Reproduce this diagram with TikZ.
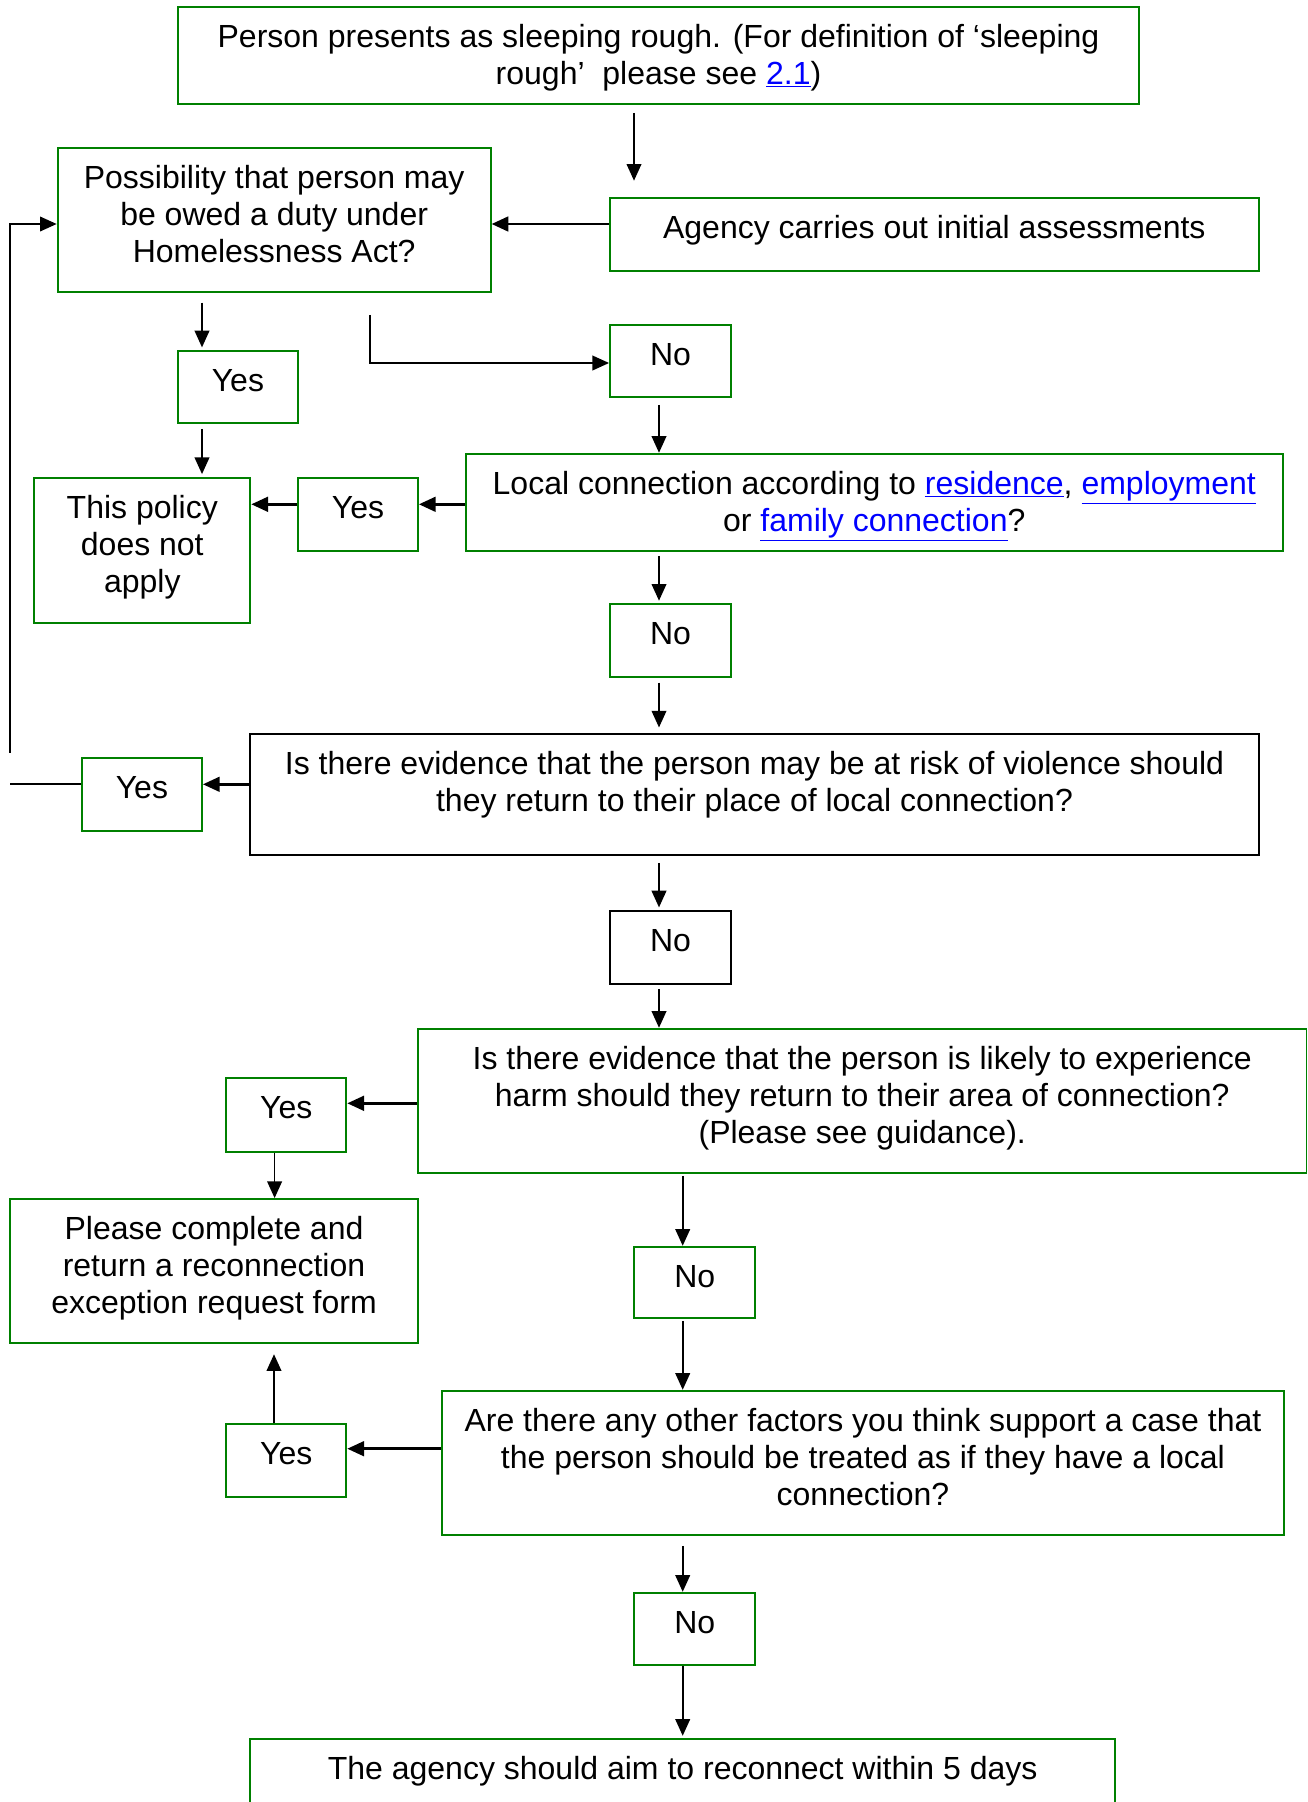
\documentclass[tikz,border=0pt]{standalone}
\usepackage{fontspec}
\setmainfont{Liberation Sans}
\usetikzlibrary{arrows.meta,fit}
\definecolor{boxgreen}{RGB}{0,128,0}
\definecolor{linkblue}{RGB}{0,0,255}
\newcommand\lnk[1]{\textcolor{linkblue}{\underline{#1}}}
\begin{document}
\begin{tikzpicture}[x=0.75pt,y=-0.75pt,
  gbox/.style={draw=boxgreen, line width=1.4pt, inner sep=0pt},
  kbox/.style={draw=black, line width=1.4pt, inner sep=0pt},
  txt/.style={font=\fontsize{24pt}{27.75pt}\selectfont, align=center, inner sep=0pt, anchor=north},
  arr/.style={draw=black, line width=1.3pt, -{Triangle[length=12.5pt,width=11pt]}},
  harr/.style={arr, line width=1.9pt},
  plain/.style={draw=black, line width=1.3pt}]
\useasboundingbox (0,0) rectangle (1308,1802);
% boxes
\node[gbox, fit={(178,7.3) (1139,104)}] (B1) {};
\node[gbox, fit={(57.6,147.7) (490.7,292.3)}] (Poss) {};
\node[gbox, fit={(610,198.3) (1258.6,270.7)}] (Agency) {};
\node[gbox, fit={(177.8,350.7) (298,423)}] (Yes1) {};
\node[gbox, fit={(610,325) (731,397.3)}] (No1) {};
\node[gbox, fit={(465.7,453.7) (1282.8,550.7)}] (Local) {};
\node[gbox, fit={(298,477.7) (418,550.7)}] (Yes2) {};
\node[gbox, fit={(34.2,477.7) (250.4,622.7)}] (Policy) {};
\node[gbox, fit={(610,604.3) (731,677.3)}] (No2) {};
\node[kbox, fit={(250.4,734) (1258.6,855)}] (Viol) {};
\node[gbox, fit={(81.8,757.7) (202,830.7)}] (Yes3) {};
\node[kbox, fit={(610,911) (731,984)}] (No3) {};
\node[gbox, fit={(418,1028.7) (1306.5,1173.3)}] (Harm) {};
\node[gbox, fit={(226.2,1078.3) (346.4,1151.7)}] (Yes4) {};
\node[gbox, fit={(10,1199) (418,1343.3)}] (Recon) {};
\node[gbox, fit={(634.3,1246.7) (755.3,1318)}] (No4) {};
\node[gbox, fit={(442.3,1390.7) (1283.6,1535.3)}] (Factors) {};
\node[gbox, fit={(226.2,1424.3) (346.4,1497)}] (Yes5) {};
\node[gbox, fit={(634.3,1592.7) (755.3,1665)}] (No5) {};
\node[gbox, fit={(250.4,1738.7) (1115,1835)}] (Final) {};
% texts
\node[txt] (B1t) at ([yshift=-11.5pt]B1.north) {\strut Person presents as sleeping rough. (For definition of ‘sleeping\\rough’\ \ please see \lnk{2.1})};
\node[txt] (Posst) at ([yshift=-11.5pt]Poss.north) {\strut Possibility that person may\\be owed a duty under\\Homelessness Act?};
\node[txt] (Agencyt) at ([yshift=-11.5pt]Agency.north) {\strut Agency carries out initial assessments};
\node[txt] (Yes1t) at ([yshift=-11.5pt]Yes1.north) {\strut Yes};
\node[txt] (No1t) at ([yshift=-11.5pt]No1.north) {\strut No};
\node[txt] (Localt) at ([yshift=-11.5pt]Local.north) {\strut Local connection according to \lnk{residence}, \lnk{employment}\\or \lnk{family connection}?};
\node[txt] (Yes2t) at ([yshift=-11.5pt]Yes2.north) {\strut Yes};
\node[txt] (Policyt) at ([yshift=-11.5pt]Policy.north) {\strut This policy\\does not\\apply};
\node[txt] (No2t) at ([yshift=-11.5pt]No2.north) {\strut No};
\node[txt] (Violt) at ([yshift=-11.5pt]Viol.north) {\strut Is there evidence that the person may be at risk of violence should\\they return to their place of local connection?};
\node[txt] (Yes3t) at ([yshift=-11.5pt]Yes3.north) {\strut Yes};
\node[txt] (No3t) at ([yshift=-11.5pt]No3.north) {\strut No};
\node[txt] (Harmt) at ([yshift=-11.5pt]Harm.north) {\strut Is there evidence that the person is likely to experience\\harm should they return to their area of connection?\\(Please see guidance).};
\node[txt] (Yes4t) at ([yshift=-11.5pt]Yes4.north) {\strut Yes};
\node[txt] (Recont) at ([yshift=-11.5pt]Recon.north) {\strut Please complete and\\return a reconnection\\exception request form};
\node[txt] (No4t) at ([yshift=-11.5pt]No4.north) {\strut No};
\node[txt] (Factorst) at ([yshift=-11.5pt]Factors.north) {\strut Are there any other factors you think support a case that\\the person should be treated as if they have a local\\connection?};
\node[txt] (Yes5t) at ([yshift=-11.5pt]Yes5.north) {\strut Yes};
\node[txt] (No5t) at ([yshift=-11.5pt]No5.north) {\strut No};
\node[txt] (Finalt) at ([yshift=-11.5pt]Final.north) {\strut The agency should aim to reconnect within 5 days};
% connectors
\draw[arr, shorten <=6pt, shorten >=12.5pt] (B1.south -| 634,0) -- (Agency.north -| 634,0);
\draw[harr] (Agency.west |- 0,224) -- (Poss.east |- 0,224);
\coordinate (loopA) at (10,752.7);
\coordinate (loopB) at (10,784.3);
\draw[arr] (loopA) |- (Poss.west |- 0,224);
\draw[plain] (Yes3.west |- 0,784.3) -- (loopB);
\draw[arr, shorten <=7pt, shorten >=1.8pt] (Poss.south -| 202,0) -- (Yes1.north -| 202,0);
\draw[arr, shorten <=16.3pt] (Poss.south -| 370,0) |- (No1.west |- 0,363);
\draw[arr, shorten <=5pt] (No1.south -| 659,0) -- (Local.north -| 659,0);
\draw[arr, shorten <=3.75pt, shorten >=2pt] (Yes1.south -| 202,0) -- (Policy.north -| 202,0);
\draw[harr] (Local.west |- 0,504.3) -- (Yes2.east |- 0,504.3);
\draw[harr] (Yes2.west |- 0,504.3) -- (Policy.east |- 0,504.3);
\draw[arr, shorten <=3.2pt, shorten >=2pt] (Local.south -| 659,0) -- (No2.north -| 659,0);
\draw[arr, shorten <=3.3pt, shorten >=4.2pt] (No2.south -| 659,0) -- (Viol.north -| 659,0);
\draw[harr] (Viol.west |- 0,784.3) -- (Yes3.east |- 0,784.3);
\draw[arr, shorten <=5.25pt, shorten >=2pt] (Viol.south -| 659,0) -- (No3.north -| 659,0);
\draw[arr, shorten <=3.2pt] (No3.south -| 659,0) -- (Harm.north -| 659,0);
\draw[harr] (Harm.west |- 0,1103.3) -- (Yes4.east |- 0,1103.3);
\draw[arr] (Yes4.south -| 274.6,0) -- (Recon.north -| 274.6,0);
\draw[arr, shorten <=1.3pt] (Harm.south -| 682.7,0) -- (No4.north -| 682.7,0);
\draw[arr, shorten <=1.5pt] (No4.south -| 682.7,0) -- (Factors.north -| 682.7,0);
\draw[harr] (Factors.west |- 0,1448.7) -- (Yes5.east |- 0,1448.7);
\draw[arr, shorten >=7.5pt] (Yes5.north -| 274,0) -- (Recon.south -| 274,0);
\draw[arr, shorten <=7.3pt] (Factors.south -| 682.7,0) -- (No5.north -| 682.7,0);
\draw[arr, shorten >=1.5pt] (No5.south -| 682.7,0) -- (Final.north -| 682.7,0);
\end{tikzpicture}
\end{document}
